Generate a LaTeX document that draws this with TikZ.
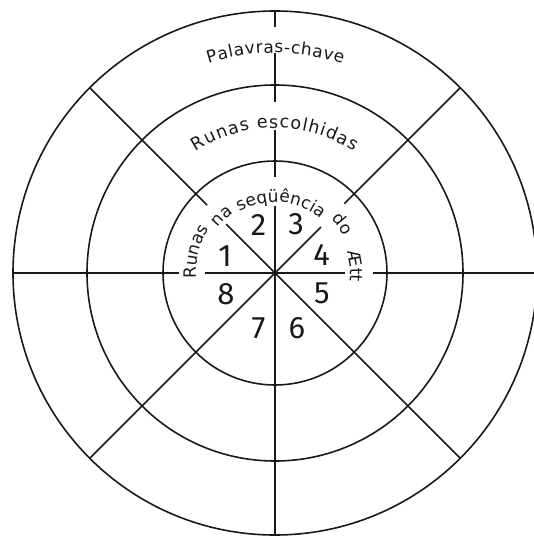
\documentclass[tikz,border=0pt]{standalone}
\usepackage{fontspec}
\setmainfont{DejaVu Sans}
\newfontfamily\digitfont{Fira Sans}
\usetikzlibrary{decorations.text}
\begin{document}
\begin{tikzpicture}[x=1pt,y=1pt,
  ring/.style={line width=1.6pt, draw=black!90},
  spoke/.style={line width=1.6pt, draw=black!90, line cap=butt},
  num/.style={inner sep=0pt, text=black!90, font=\digitfont\fontsize{31}{31}\selectfont},
  fitword/.style={decorate, decoration={text along path, text align={fit to path}, text color=black!90,
    text={|\fontsize{17}{17}\selectfont|#1}}},
  midword/.style={decorate, decoration={text along path, text align=center, text color=black!90,
    text={|\fontsize{17}{17}\selectfont|#1}}},
]
\useasboundingbox (-275,-263) rectangle (259,273);
\clip (-275,-263) rectangle (259,273);
\coordinate (O) at (0,0);
% rings
\draw[ring] (O) circle[radius=262];
\draw[ring] (O) circle[radius=188];
\draw[ring] (O) circle[radius=112];
% spokes with gaps for the texts
\draw[spoke] (90:262) -- (90:246) (90:220) -- (90:171) (90:143) -- (90:96) (90:67) -- (O);
\draw[spoke] (O) -- (270:262);
\draw[spoke] (180:262) -- (180:96) (180:70) -- (O);
\draw[spoke] (0:262) -- (0:98) (0:70) -- (O);
\draw[spoke] (135:262) -- (135:96) (135:69) -- (O);
\draw[spoke] (45:262) -- (45:98) (45:65) -- (O);
\draw[spoke] (O) -- (225:262);
\draw[spoke] (O) -- (315:262);
% curved texts: outer bands
\path[fitword={Palavras-chave}]
  (107.6:220) arc[start angle=107.6, end angle=72.1, radius=220];
\path[decorate, decoration={text along path, text align={fit to path}, text color=black!90,
  text={|\fontsize{17.5}{17.5}\selectfont|Runas escolhidas}}]
  (123:145) arc[start angle=123, end angle=57, radius=145];
% inner text, word by word
\path[midword={Runas}] (195:79) arc[start angle=195, end angle=135, radius=79];
\path[midword={na}] (153:73) arc[start angle=153, end angle=113, radius=73];
\path[midword={seqüência}] (130:71) arc[start angle=130, end angle=40, radius=71];
\path[midword={do}] (56:78) arc[start angle=56, end angle=16, radius=78];
\path[midword={Ætt}] (29:75) arc[start angle=29, end angle=-19, radius=75];
% numbers
\node[num] (n1) at (-50,16.5) {1};
\node[num] (n2) at (-16.5,48.5) {2};
\node[num] (n3) at (21,48.5) {3};
\node[num] (n4) at (46.5,18.5) {4};
\node[num] (n5) at (47,-20) {5};
\node[num] (n6) at (22,-55.5) {6};
\node[num] (n7) at (-16.5,-55.5) {7};
\node[num] (n8) at (-49,-21) {8};
\end{tikzpicture}
\end{document}
